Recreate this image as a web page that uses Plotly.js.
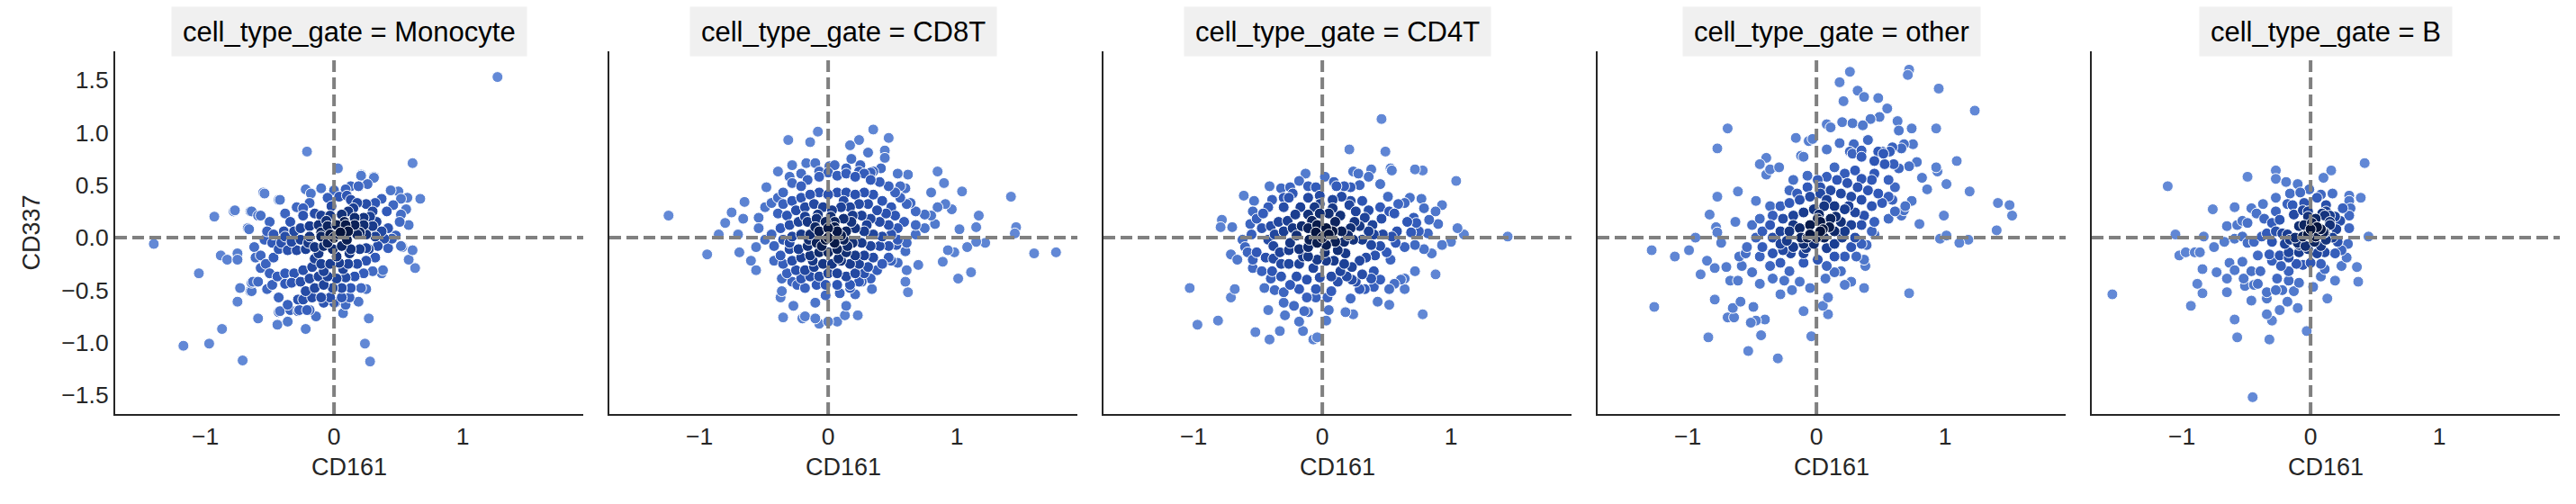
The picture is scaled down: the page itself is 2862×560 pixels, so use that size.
<!DOCTYPE html>
<html>
<head>
<meta charset="utf-8">
<script src="https://cdn.plot.ly/plotly-3.0.1.min.js"></script>
<style>
  html, body { margin: 0; padding: 0; background: #fff; }
  #chart { width: 2862px; height: 560px; }
</style>
</head>
<body>
<div id="chart"></div>
<script>
// facet names (one panel per gate)
const gates = ["Monocyte", "CD8T", "CD4T", "other", "B"];

// tick labels
const xTickVals = [-1, 0, 1];
const xTickText = ["\u22121", "0", "1"];
const yTickVals = [-1.5, -1.0, -0.5, 0.0, 0.5, 1.0, 1.5];
const yTickText = ["\u22121.5", "\u22121.0", "\u22120.5", "0.0", "0.5", "1.0", "1.5"];

// CD161 / CD337 per cell: [CD161, CD337]
const monocytePts = [
  [1.27,1.53],[-1.40,-0.06],[-1.17,-1.03],[-0.97,-1.01],[-0.71,-1.17],[-0.87,-0.87],[-1.05,-0.34],[-0.93,0.20],
  [-0.88,-0.17],[-0.83,-0.21],[-0.75,-0.15],[-0.75,-0.21],[-0.77,0.26],[-0.75,-0.61],[-0.73,-0.48],[-0.59,-0.77],
  [-0.44,-0.83],[-0.36,-0.80],[-0.22,-0.87],[0.24,-1.01],[0.28,-1.18],[0.27,-0.77],[0.07,-0.72],[-0.21,0.82],
  [0.61,0.71],[0.67,0.37],[0.03,0.66],[-0.54,0.42],[0.21,0.59],[0.31,0.57],[0.44,0.45],[0.57,0.38],
  [0.63,-0.29],[0.58,-0.21],[0.61,-0.12],[0.52,-0.08],[-0.64,0.25],[-0.57,0.21],[-0.66,0.08],[-0.42,0.36],
  [-0.63,-0.42],[-0.64,-0.51],[-0.42,-0.70],[-0.27,-0.69],[-0.19,-0.69],[-0.14,-0.75],[0.01,-0.62],[0.19,-0.61],
  [0.21,0.60],[0.31,0.58],[0.26,0.51],[0.13,0.49],[0.19,0.49],[0.09,0.46],[0.00,0.45],[-0.10,0.47],
  [-0.22,0.46],[-0.18,0.42],[0.50,0.44],[0.52,0.37],[0.37,0.37],[0.32,0.33],[0.25,0.32],[0.18,0.33],
  [0.13,0.36],[0.04,0.39],[-0.05,0.38],[-0.19,0.33],[-0.29,0.29],[-0.38,0.23],[-0.43,0.36],[-0.59,0.21],
  [-0.65,0.25],[-0.78,0.25],[-0.55,0.43],[-0.67,0.09],[-0.50,0.15],[-0.39,0.06],[-0.34,0.15],[-0.24,0.21],
  [-0.24,0.28],[-0.15,0.23],[-0.10,0.21],[-0.03,0.21],[0.06,0.22],[0.11,0.25],[0.16,0.19],[0.23,0.19],
  [0.28,0.20],[0.33,0.15],[0.41,0.25],[0.46,0.31],[0.52,0.22],[0.56,0.27],[0.58,0.12],[0.51,0.15],
  [0.48,0.02],[0.42,0.09],[0.37,0.06],[0.30,0.11],[0.23,0.12],[0.16,0.12],[0.09,0.12],[0.02,0.12],
  [-0.05,0.11],[-0.12,0.12],[-0.19,0.11],[-0.26,0.09],[-0.31,0.06],[-0.38,0.01],[-0.47,0.03],[-0.52,0.06],
  [-0.54,-0.02],[-0.62,-0.09],[-0.61,-0.19],[-0.57,-0.17],[-0.48,-0.05],[-0.41,-0.05],[-0.33,-0.04],[-0.26,-0.02],
  [-0.19,0.01],[-0.10,0.01],[-0.03,0.03],[0.04,0.03],[0.11,0.06],[0.18,0.03],[0.25,0.03],[0.32,0.01],
  [0.39,-0.01],[0.45,-0.01],[0.53,-0.09],[0.42,-0.10],[0.34,-0.08],[0.27,-0.11],[0.20,-0.11],[0.13,-0.11],
  [0.06,-0.08],[-0.01,-0.11],[-0.08,-0.08],[-0.15,-0.09],[-0.22,-0.11],[-0.29,-0.12],[-0.36,-0.12],[-0.43,-0.11],
  [-0.47,-0.19],[-0.53,-0.25],[-0.50,-0.34],[-0.57,-0.29],[-0.59,-0.42],[-0.64,-0.43],[-0.65,-0.51],[-0.44,-0.37],
  [-0.38,-0.34],[-0.31,-0.34],[-0.24,-0.31],[-0.17,-0.28],[-0.10,-0.25],[-0.03,-0.25],[0.04,-0.24],[0.11,-0.25],
  [0.18,-0.25],[0.25,-0.22],[0.32,-0.19],[0.38,-0.31],[0.37,-0.34],[0.30,-0.32],[0.23,-0.34],[0.16,-0.37],
  [0.09,-0.38],[0.02,-0.39],[-0.05,-0.37],[-0.12,-0.37],[-0.19,-0.39],[-0.26,-0.42],[-0.33,-0.43],[-0.38,-0.44],
  [-0.48,-0.45],[-0.52,-0.49],[-0.43,-0.57],[-0.36,-0.64],[-0.28,-0.59],[-0.22,-0.51],[-0.15,-0.48],[-0.08,-0.45],
  [-0.01,-0.48],[0.06,-0.48],[0.13,-0.48],[0.21,-0.48],[0.25,-0.49],[0.12,-0.57],[0.06,-0.57],[-0.03,-0.57],
  [-0.10,-0.57],[-0.17,-0.57],[-0.24,-0.59],[0.09,-0.64],[0.00,-0.62],[-0.08,-0.62],[-0.34,-0.69],[-0.28,-0.70],
  [-0.21,-0.69],[-0.43,-0.71],[0.00,0.00],[0.05,0.05],[-0.05,-0.05],[0.10,-0.02],[-0.10,0.05],[0.08,0.15],
  [-0.06,0.16],[0.12,-0.15],[-0.12,-0.15],[0.02,-0.18],[0.15,0.28],[-0.02,0.30],[0.20,0.05],[-0.20,-0.05],
  [0.25,-0.10],[0.07,-0.30],[-0.08,-0.32],[0.30,0.25],[0.10,0.40],[-0.15,-0.20]
];

const cd8tPts = [
  [-1.24,0.21],[-0.94,-0.16],[-0.85,0.03],[-0.80,0.14],[-0.75,0.24],[-0.70,0.03],[-0.69,-0.14],[-0.66,0.18],
  [-0.65,0.34],[-0.60,-0.22],[-0.56,-0.31],[-0.56,-0.09],[-0.54,0.19],[-0.54,0.09],[-0.48,0.48],[-0.39,0.63],
  [-0.31,0.93],[-0.14,0.91],[-0.08,1.01],[0.17,0.88],[0.24,0.93],[0.35,1.03],[0.47,0.95],[0.31,0.81],
  [0.44,0.83],[0.44,0.76],[0.18,0.75],[0.85,0.63],[0.90,0.52],[1.04,0.44],[0.80,0.43],[1.42,0.39],
  [1.17,0.21],[1.15,0.10],[1.02,0.08],[1.46,0.10],[1.45,0.04],[1.22,-0.05],[1.15,-0.04],[1.08,-0.09],
  [0.98,-0.14],[0.93,-0.12],[0.89,-0.23],[1.01,-0.39],[1.11,-0.33],[1.60,-0.15],[1.77,-0.14],[0.75,0.22],
  [0.83,0.13],[0.80,0.21],[0.85,0.29],[0.91,0.32],[0.96,0.27],[0.75,0.09],[0.68,0.25],[0.68,0.03],
  [0.70,-0.26],[0.61,-0.31],[0.60,-0.42],[0.62,-0.52],[0.54,-0.24],[0.47,-0.19],[0.34,-0.49],[0.23,-0.74],
  [0.14,-0.65],[0.13,-0.74],[0.07,-0.80],[0.00,-0.80],[-0.07,-0.82],[-0.10,-0.77],[-0.20,-0.77],[-0.35,-0.76],
  [-0.27,-0.65],[-0.18,-0.75],[-0.37,-0.57],[-0.36,-0.51],[-0.10,-0.62],[-0.02,-0.55],[0.09,-0.53],[0.17,-0.48],
  [0.21,-0.54],[0.24,-0.42],[-0.28,0.69],[-0.17,0.71],[-0.10,0.71],[0.01,0.68],[0.05,0.69],[0.25,0.69],
  [0.35,0.63],[0.41,0.66],[0.54,0.61],[0.62,0.60],[0.60,0.47],[0.56,0.49],[0.64,0.33],[0.68,0.12],
  [0.61,-0.05],[0.60,-0.13],[0.53,-0.07],[0.49,-0.22],
  [-0.39,0.38],[-0.44,0.33],[-0.49,0.29],[-0.35,0.43],[-0.28,0.52],[-0.30,0.58],[-0.21,0.49],[-0.16,0.55],
  [-0.07,0.58],[0.00,0.62],[0.07,0.59],[0.14,0.61],[0.21,0.58],[0.28,0.61],[0.33,0.55],[0.40,0.53],
  [0.47,0.49],[0.52,0.43],[0.56,0.38],[0.61,0.32],[0.49,0.29],[0.42,0.35],[0.35,0.41],[0.28,0.43],
  [0.21,0.41],[0.14,0.43],[0.07,0.43],[0.00,0.41],[-0.07,0.43],[-0.14,0.41],[-0.21,0.38],[-0.28,0.35],
  [-0.35,0.32],[-0.39,0.23],[-0.32,0.21],[-0.25,0.26],[-0.18,0.29],[-0.11,0.32],[-0.04,0.29],[0.03,0.26],
  [0.10,0.29],[0.17,0.29],[0.24,0.32],[0.31,0.32],[0.38,0.26],[0.45,0.23],[0.52,0.21],[0.59,0.15],
  [0.54,0.09],[0.47,0.12],[0.40,0.15],[0.33,0.18],[0.26,0.21],[0.19,0.21],[0.12,0.18],[0.05,0.15],
  [-0.02,0.15],[-0.09,0.18],[-0.16,0.15],[-0.23,0.15],[-0.30,0.12],[-0.37,0.09],[-0.44,0.03],[-0.49,-0.02],
  [-0.42,-0.08],[-0.35,-0.02],[-0.28,0.01],[-0.21,0.03],[-0.14,0.03],[-0.07,0.06],[0.00,0.09],[0.07,0.06],
  [0.14,0.06],[0.21,0.09],[0.28,0.06],[0.35,0.03],[0.42,0.01],[0.49,0.03],[0.54,-0.02],[0.47,-0.08],
  [0.40,-0.08],[0.33,-0.08],[0.26,-0.05],[0.19,-0.05],[0.12,-0.02],[0.05,-0.05],[-0.02,-0.02],[-0.09,-0.05],
  [-0.16,-0.08],[-0.23,-0.11],[-0.30,-0.11],[-0.37,-0.17],[-0.42,-0.22],[-0.35,-0.25],[-0.28,-0.22],[-0.21,-0.19],
  [-0.14,-0.17],[-0.07,-0.14],[0.00,-0.14],[0.07,-0.11],[0.14,-0.14],[0.21,-0.17],[0.28,-0.17],[0.35,-0.19],
  [0.42,-0.25],[0.38,-0.31],[0.31,-0.28],[0.24,-0.25],[0.17,-0.25],[0.10,-0.22],[0.03,-0.25],[-0.04,-0.25],
  [-0.11,-0.28],[-0.18,-0.31],[-0.25,-0.31],[-0.32,-0.34],[-0.36,-0.39],[-0.28,-0.42],[-0.21,-0.39],[-0.14,-0.37],
  [-0.07,-0.37],[0.00,-0.34],[0.07,-0.34],[0.14,-0.37],[0.21,-0.34],[0.28,-0.34],[0.33,-0.39],[0.26,-0.42],
  [0.17,-0.45],[0.07,-0.45],[-0.02,-0.45],[-0.09,-0.45],[-0.18,-0.48],[-0.24,-0.45],[-0.07,0.63],[0.14,0.66],
  [0.24,0.63],[0.33,0.62],[-0.21,0.61],
  [0.00,0.00],[0.05,0.10],[-0.05,-0.08],[0.10,0.02],[-0.10,0.10],[0.15,-0.08],[-0.15,-0.02],[0.02,0.20],
  [0.08,-0.20],[-0.08,0.22],[0.18,0.15],[-0.18,0.20],[0.12,0.35],[-0.12,-0.22],[0.30,0.12],[-0.30,-0.05]
];

const cd4tPts = [
  [0.46,1.13],[0.21,0.84],[0.49,0.82],[1.04,0.54],[1.44,0.01],[-1.03,-0.48],[-0.97,-0.83],[-0.81,-0.79],
  [-0.68,-0.49],[-0.71,-0.57],[-0.52,-0.90],[-0.41,-0.97],[-0.33,-0.89],[-0.15,-0.89],[-0.07,-0.97],[-0.04,-0.95],
  [-0.18,-0.80],[0.03,-0.79],[-0.42,-0.69],[-0.29,-0.74],[0.78,-0.73],[0.88,-0.35],[0.72,-0.32],[0.43,-0.61],
  [0.52,-0.64],[0.24,-0.73],[0.18,-0.71],[-0.78,0.17],[-0.79,0.10],[-0.70,0.10],[-0.61,0.40],[-0.56,0.13],
  [-0.53,0.35],[-0.71,-0.16],[-0.66,-0.21],[-0.54,-0.29],[1.05,0.09],[1.10,0.03],[0.93,-0.07],[1.00,-0.04],
  [0.85,-0.15],[0.79,-0.11],[0.93,0.31],[0.88,0.25],[0.90,0.13],[0.79,0.28],[0.77,0.37],[0.72,0.65],
  [0.78,0.64],[0.54,0.64],[0.53,0.66],[0.38,0.65],[0.28,0.61],[0.24,0.63],[0.36,0.58],[0.45,0.51],
  [-0.13,0.61],[-0.18,0.54],[-0.25,0.48],[-0.41,0.49],[-0.32,0.47],[0.64,-0.39],[0.61,-0.40],[0.56,-0.44],
  [0.64,-0.49],[0.52,-0.49],[0.45,-0.40],[0.40,-0.47],[0.33,-0.49],[0.29,-0.49],[0.22,-0.58],[0.23,-0.40],
  [0.38,-0.39],[0.40,-0.32],[0.07,-0.51],[0.04,-0.57],[0.05,-0.69],[-0.05,-0.49],[-0.11,-0.71],[-0.14,-0.70],
  [-0.22,-0.65],[-0.30,-0.62],[-0.30,-0.52],[-0.37,-0.50],[-0.45,-0.48],[-0.40,-0.39],[-0.47,-0.32],[-0.54,-0.21],
  [0.72,-0.07],[0.64,-0.09],[0.57,-0.05],[0.58,0.06],[0.69,0.05],[0.75,0.06],[0.82,0.04],[0.83,0.17],
  [0.73,0.14],[0.66,0.15],[0.71,0.19],[0.68,0.38],[0.64,0.33],[0.59,0.32],[0.51,0.39],[0.56,0.23],
  [0.52,0.25],[0.45,0.29],[0.46,0.18],[0.39,0.12],[0.36,0.26],[0.31,0.35],[0.29,0.50],[0.22,0.48],
  [0.17,0.49],[0.11,0.49],[0.09,0.53],[0.02,0.58],[-0.05,0.48],[-0.11,0.49],[-0.23,0.42],[-0.26,0.38],
  [-0.39,0.36],[-0.42,0.29],[-0.46,0.23],[-0.51,0.18],[-0.54,0.25],[-0.47,0.09],[-0.55,0.03],[-0.62,-0.02],
  [-0.60,-0.09],[-0.58,-0.14],[-0.51,-0.14],[-0.44,-0.19],[-0.38,-0.20],[-0.32,-0.25],[-0.26,-0.25],[-0.18,-0.25],
  [-0.11,-0.18],[-0.04,-0.21],[0.03,-0.22],[0.09,-0.22],[0.17,-0.25],[0.23,-0.28],[0.29,-0.22],[0.34,-0.19],
  [0.41,-0.17],[0.50,-0.14],[0.53,-0.21],[0.45,-0.08],[0.38,-0.07],[0.31,-0.02],[0.24,-0.02],[0.17,-0.04],
  [0.10,-0.04],[0.03,-0.07],[-0.04,-0.05],[-0.11,-0.09],[-0.18,-0.11],[-0.26,-0.12],[-0.33,-0.14],[-0.38,-0.08],
  [-0.42,-0.02],[-0.37,0.03],[-0.30,0.06],[-0.23,0.09],[-0.16,0.11],[-0.11,0.09],[-0.04,0.12],[0.03,0.09],
  [0.08,0.06],[0.15,0.06],[0.22,0.09],[0.29,0.11],[0.36,0.06],[0.40,0.03],[0.47,0.03],[0.54,0.01],
  [-0.21,0.22],[-0.17,0.29],[-0.11,0.22],[-0.06,0.29],[-0.02,0.23],[0.05,0.23],[0.14,0.21],[0.21,0.31],
  [0.26,0.25],[0.33,0.19],[-0.30,0.29],[-0.34,0.15],[-0.27,0.16],[-0.40,0.11],[-0.02,0.32],[0.08,0.36],
  [0.15,0.39],[0.22,0.35],[-0.11,0.38],[-0.30,0.38],[-0.20,-0.37],[-0.12,-0.40],[-0.07,-0.29],[-0.02,-0.38],
  [0.07,-0.37],[0.14,-0.32],[0.19,-0.37],[0.31,-0.35],[-0.39,-0.32],[-0.32,-0.37],[-0.25,-0.45],[-0.18,-0.49],
  [-0.12,-0.57],[-0.05,-0.57],[0.12,-0.42],[0.26,-0.42],
  [0.00,0.00],[0.05,0.03],[-0.05,0.05],[0.10,0.15],[-0.10,-0.02],[0.12,-0.12],[-0.08,0.16],[0.02,-0.14],
  [0.20,0.02],[-0.20,0.02],[0.18,-0.15],[-0.15,-0.18],[0.08,0.28],[-0.02,0.40],[0.25,0.15],[-0.25,-0.05]
];

const otherPts = [
  [0.26,1.58],[0.72,1.60],[0.71,1.55],[0.18,1.48],[0.95,1.42],[0.21,1.30],[0.32,1.40],[0.37,1.34],
  [0.48,1.33],[0.55,1.23],[1.23,1.21],[0.49,1.15],[0.42,1.13],[0.20,1.10],[0.28,1.09],[0.36,1.07],
  [0.08,1.08],[0.11,1.05],[0.63,1.11],[0.74,1.04],[0.93,1.04],[0.64,1.02],[-0.69,1.04],[-0.16,0.95],
  [-0.06,0.92],[-0.03,0.94],[0.18,0.90],[0.08,0.84],[0.29,0.89],[0.40,0.93],[0.68,0.89],[0.75,0.89],
  [0.59,0.86],[0.66,0.85],[0.51,0.82],[0.52,0.80],[0.35,0.83],[0.26,0.82],[0.28,0.80],[0.48,0.82],
  [0.35,0.77],[-0.77,0.85],[-0.12,0.78],[-0.10,0.77],[-0.44,0.70],[-0.39,0.76],[-0.36,0.65],[-0.29,0.67],
  [-0.39,0.60],[1.09,0.73],[0.78,0.72],[0.72,0.68],[0.64,0.66],[0.60,0.70],[0.53,0.70],[0.93,0.67],
  [0.94,0.63],[0.82,0.57],[1.01,0.51],[0.86,0.46],[1.19,0.44],[0.74,0.35],[0.69,0.30],[0.61,0.25],
  [0.68,0.26],[0.66,0.21],[0.56,0.18],[0.80,0.13],[0.99,0.21],[1.41,0.33],[1.50,0.31],[1.52,0.21],
  [1.40,0.07],[1.11,-0.05],[1.18,-0.02],[1.01,0.02],[0.96,-0.01],[0.72,-0.53],[0.45,0.03],[0.39,-0.07],
  [-0.77,0.39],[-0.61,0.44],[-0.47,0.35],[-0.63,0.15],[-0.83,0.22],[-0.78,0.10],[-0.77,0.05],[-0.94,0.00],
  [-0.74,-0.05],[-0.99,-0.12],[-1.10,-0.18],[-1.28,-0.12],[-0.90,-0.35],[-0.85,-0.22],[-0.79,-0.29],[-0.70,-0.28],
  [-0.79,-0.59],[-0.67,-0.41],[-0.61,-0.41],[-0.59,-0.61],[-0.65,-0.67],[-0.69,-0.76],[-0.64,-0.76],[-0.51,-0.81],
  [-0.47,-0.79],[-0.40,-0.78],[-0.49,-0.66],[-0.43,-0.93],[-0.53,-1.08],[-0.30,-1.15],[-0.84,-0.95],[-1.26,-0.66],
  [-0.10,-0.70],[-0.04,-0.94],[0.05,-0.65],[0.09,-0.73],[0.09,-0.57],[0.22,-0.45],[0.27,-0.42],[0.37,-0.48],
  [0.38,-0.27],[0.37,-0.21],[0.31,-0.18],[0.19,-0.32],[0.14,-0.33],[0.07,-0.39],[-0.05,-0.48],[-0.13,-0.42],
  [-0.19,-0.50],[-0.28,-0.54],[-0.25,-0.41],[-0.34,-0.39],[-0.44,-0.44],[-0.50,-0.33],[-0.58,-0.27],[-0.55,-0.15],
  [-0.60,-0.18],[-0.54,-0.09],[-0.44,-0.18],[-0.36,-0.27],[-0.28,-0.24],[-0.21,-0.32],[-0.10,-0.24],[0.01,-0.21],
  [0.08,-0.27],[0.14,-0.18],[0.22,-0.18],[0.27,-0.09],[0.35,-0.06],[0.30,0.00],[0.22,0.06],[0.14,0.06],
  [0.06,0.00],[-0.02,-0.06],[-0.10,-0.06],[-0.18,-0.09],[-0.26,-0.12],[-0.34,-0.15],[-0.42,-0.09],[-0.47,0.00],
  [-0.50,0.12],[-0.44,0.18],[-0.36,0.12],[-0.28,0.06],[-0.21,0.06],[-0.13,0.09],[-0.05,0.12],[0.03,0.15],
  [0.11,0.18],[0.19,0.15],[0.27,0.12],[0.35,0.12],[0.43,0.06],[0.45,0.15],[0.37,0.21],[0.30,0.24],
  [0.22,0.27],[0.14,0.30],[0.06,0.30],[-0.02,0.27],[-0.10,0.24],[-0.18,0.21],[-0.26,0.18],[-0.34,0.21],
  [-0.36,0.30],[-0.28,0.30],[-0.21,0.33],[-0.13,0.36],[-0.05,0.39],[0.03,0.42],[0.11,0.45],[0.19,0.42],
  [0.27,0.39],[0.35,0.36],[0.43,0.30],[0.51,0.33],[0.56,0.39],[0.48,0.42],[0.40,0.45],[0.32,0.48],
  [0.24,0.52],[0.16,0.55],[0.08,0.58],[0.01,0.55],[-0.07,0.48],[-0.15,0.42],[-0.21,0.45],[-0.18,0.55],
  [-0.07,0.59],[0.03,0.48],[0.14,0.67],[0.22,0.61],[0.30,0.64],[0.35,0.56],[0.43,0.55],[0.45,0.61],
  [0.56,0.55],[0.61,0.48],[0.59,0.36],[0.57,0.82],[0.45,0.73],[0.08,0.36],[0.01,0.18],[0.14,-0.06],
  [-0.07,0.00],[-0.18,0.12],[-0.23,-0.03],[-0.34,0.00],[-0.42,0.06],[-0.28,-0.06],[-0.10,-0.15],[0.03,0.06],
  [0.00,0.00],[0.05,0.08],[-0.05,0.03],[0.10,0.10],[-0.08,-0.10],[0.15,0.20],[0.02,0.22],[-0.12,0.00],
  [0.08,-0.10],[0.20,0.00],[-0.20,-0.15],[0.25,0.30]
];

const bPts = [
  [0.42,0.71],[0.16,0.64],[0.10,0.57],[-0.27,0.64],[-0.27,0.56],[-0.49,0.58],[-1.11,0.49],[-0.19,0.53],
  [-0.10,0.51],[-0.01,0.46],[-0.16,0.42],[-0.08,0.43],[0.08,0.41],[0.17,0.42],[0.30,0.40],[0.39,0.38],
  [-0.27,0.38],[0.05,0.38],[0.30,0.35],[0.12,0.31],[0.25,0.28],[0.31,0.28],[-0.76,0.27],[-0.59,0.29],
  [-0.46,0.28],[-0.37,0.32],[-0.18,0.32],[-0.14,0.31],[-0.05,0.33],[-0.27,0.25],[-0.42,0.23],[-0.02,0.25],
  [-0.06,0.26],[-0.13,0.22],[0.09,0.23],[0.15,0.21],[0.19,0.20],[0.23,0.16],[0.30,0.21],[0.11,0.21],
  [0.04,0.18],[0.01,0.14],[0.15,0.12],[-0.09,0.11],[-0.24,0.17],[-0.30,0.14],[-0.36,0.18],[-0.49,0.14],
  [-0.57,0.12],[-0.65,0.11],[-0.53,0.16],[0.30,0.09],[0.08,0.08],[0.11,0.05],[0.04,0.01],[-0.06,0.01],
  [-0.02,0.03],[-0.12,0.00],[-0.18,0.03],[-0.22,0.04],[-0.27,0.06],[-0.34,0.04],[-0.38,0.01],[-0.44,-0.04],
  [-0.49,-0.05],[-0.30,-0.04],[-0.20,-0.06],[-0.16,-0.02],[-0.09,-0.07],[-0.04,-0.08],[0.03,-0.04],[0.12,-0.02],
  [0.17,0.00],[0.21,-0.04],[0.29,-0.06],[0.45,0.01],[-1.05,0.03],[-0.83,0.01],[-0.67,-0.04],[-0.59,-0.01],
  [-0.53,0.01],[-0.75,-0.09],[-0.97,-0.14],[-1.02,-0.17],[-0.90,-0.14],[-0.86,-0.14],[-0.41,-0.17],[-0.32,-0.16],
  [-0.24,-0.17],[-0.17,-0.14],[-0.09,-0.14],[-0.02,-0.11],[0.05,-0.15],[0.11,-0.14],[0.19,-0.15],[0.24,-0.12],
  [0.28,-0.19],[-0.30,-0.22],[-0.23,-0.27],[-0.17,-0.19],[-0.11,-0.25],[-0.06,-0.26],[0.00,-0.24],[0.08,-0.25],
  [0.11,-0.30],[0.24,-0.27],[0.36,-0.28],[-0.84,-0.30],[-0.73,-0.33],[-0.63,-0.24],[-0.59,-0.31],[-0.53,-0.23],
  [-0.46,-0.32],[-0.39,-0.32],[-0.26,-0.39],[-0.17,-0.32],[-0.09,-0.43],[0.08,-0.37],[0.19,-0.41],[0.37,-0.42],
  [-0.65,-0.39],[-0.88,-0.44],[-0.52,-0.39],[-0.51,-0.46],[-0.44,-0.45],[-0.41,-0.44],[-0.17,-0.41],[-0.84,-0.53],
  [-0.65,-0.52],[-0.34,-0.52],[-0.27,-0.50],[-0.22,-0.50],[-0.13,-0.51],[0.02,-0.47],[0.13,-0.58],[-0.93,-0.65],
  [-0.46,-0.60],[-0.34,-0.58],[-0.18,-0.61],[-0.10,-0.67],[-0.24,-0.69],[-0.34,-0.73],[-0.30,-0.79],[-0.59,-0.78],
  [-1.54,-0.54],[-0.57,-0.95],[-0.32,-0.97],[-0.03,-0.89],[-0.45,-1.52],
  [0.05,0.10],[0.10,0.05],[0.00,0.08],[-0.05,0.12],[0.15,0.15],[0.20,0.08],[0.08,-0.08],[-0.10,-0.05],
  [0.12,0.25],[-0.02,0.20]
];

const panelPts = [monocytePts, cd8tPts, cd4tPts, otherPts, bPts];

const W = 2862, H = 560;
const plotLeft = [128, 677, 1226, 1775, 2324];
const plotW = 520;
const plotTop = 57, plotBottom = 460;
const xRange = [-1.70, 1.936];
const yRange = [-1.68, 1.775];
const ink = "#262626";
const font = '"Liberation Sans", Arial, sans-serif';

// local point density (gaussian kernel) -> hue like the original
function density(pts) {
  const s = 0.15;
  const d = pts.map(([x, y]) => {
    let sum = 0;
    for (const [u, v] of pts) {
      const dx = (x - u) / s, dy = (y - v) / s;
      sum += Math.exp(-0.5 * (dx * dx + dy * dy));
    }
    return sum;
  });
  const mx = Math.max(...d);
  return d.map(v => v / mx);
}

const colorscale = [
  [0.0, "#6389d6"], [0.2, "#5079cc"], [0.45, "#3159b8"],
  [0.7, "#1b3f94"], [0.88, "#0f2a6a"], [1.0, "#06143c"]
];

const traces = [];
const layout = {
  width: W, height: H,
  margin: { l: 0, r: 0, t: 0, b: 0 },
  paper_bgcolor: "#fff", plot_bgcolor: "#fff",
  showlegend: false,
  font: { family: font, color: ink, size: 26 },
  shapes: [], annotations: []
};

const measure = document.createElement("canvas").getContext("2d");
measure.font = '31px "Liberation Sans"';

panelPts.forEach((pts, i) => {
  const n = i + 1;
  const xa = "x" + (n === 1 ? "" : n), ya = "y" + (n === 1 ? "" : n);
  const dens = density(pts);
  const order = pts.map((p, k) => k).sort((a, b) => dens[a] - dens[b]);
  traces.push({
    type: "scatter", mode: "markers",
    x: order.map(k => pts[k][0]),
    y: order.map(k => pts[k][1]),
    xaxis: xa, yaxis: ya,
    marker: {
      size: 12,
      color: order.map(k => Math.pow(dens[k], 1.7)),
      colorscale: colorscale, cmin: 0, cmax: 1, showscale: false,
      line: { color: "#ffffff", width: 1 }
    },
    hoverinfo: "x+y"
  });

  const x0 = plotLeft[i] / W, x1 = (plotLeft[i] + plotW) / W;
  layout["xaxis" + (n === 1 ? "" : n)] = {
    domain: [x0, x1], anchor: ya, range: xRange,
    tickvals: xTickVals, ticktext: xTickText,
    ticks: "", showgrid: false, zeroline: false,
    showline: true, linecolor: ink, linewidth: 2,
    tickfont: { size: 26.5, color: ink, family: font },
    title: { text: "CD161", font: { size: 27, color: ink, family: font }, standoff: 10 }
  };
  layout["yaxis" + (n === 1 ? "" : n)] = {
    domain: [(H - plotBottom) / H, (H - plotTop) / H], anchor: xa, range: yRange,
    tickvals: yTickVals, ticktext: yTickText,
    showticklabels: n === 1,
    ticks: "", showgrid: false, zeroline: false,
    showline: true, linecolor: ink, linewidth: 2,
    tickfont: { size: 26.5, color: ink, family: font },
    title: n === 1 ? { text: "CD337", font: { size: 27, color: ink, family: font }, standoff: 16 } : { text: "" }
  };

  // dashed zero lines, drawn over the points
  const dash = { color: "#808080", width: 4, dash: "13px,6px" };
  layout.shapes.push({
    type: "line", layer: "above", xref: xa + " domain", yref: ya,
    x0: 0, x1: 1, y0: 0, y1: 0, line: dash
  });
  layout.shapes.push({
    type: "line", layer: "above", xref: xa, yref: ya + " domain",
    x0: 0, x1: 0, y0: 0, y1: 1, line: dash
  });

  // facet title in a grey box
  const label = "cell_type_gate = " + gates[i];
  const tw = measure.measureText(label).width;
  layout.annotations.push({
    text: label, xref: "paper", yref: "paper",
    x: (x0 + x1) / 2, y: (H - 35) / H, xanchor: "center", yanchor: "middle",
    showarrow: false, bgcolor: "#f0f0f0", borderpad: 0,
    width: tw + 24, height: 54,
    font: { size: 31, color: "#000", family: font }
  });
});

Plotly.newPlot("chart", traces, layout, { displayModeBar: false, staticPlot: true });
</script>
</body>
</html>
